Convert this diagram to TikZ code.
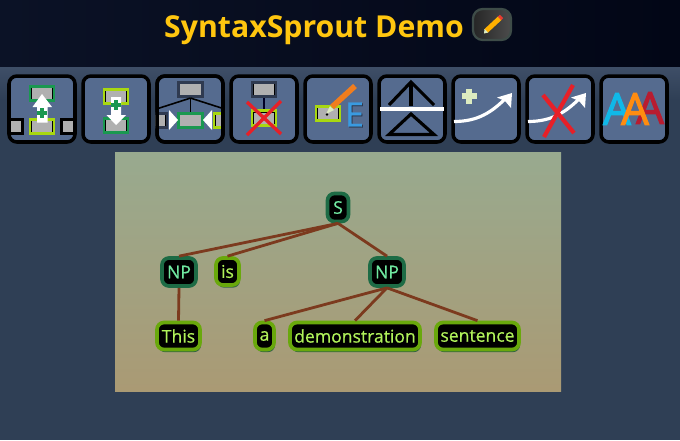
\documentclass[tikz,border=0pt]{standalone}
\usepackage{fontspec}
\setmainfont{Open Sans}
\newfontfamily\nodefont[FakeBold=0.6]{Open Sans}
\newfontfamily\lettersfont[FakeBold=2.5]{Open Sans}
\usepackage{xcolor}
\usetikzlibrary{arrows.meta, positioning, shadows}
\definecolor{pagebg}{HTML}{2F3F55}
\definecolor{stripbg}{HTML}{3E4E67}
\definecolor{btnbg}{HTML}{556B8F}
\definecolor{headleft}{HTML}{0B1226}
\definecolor{headright}{HTML}{020616}
\definecolor{titlegold}{HTML}{FFC60F}
\definecolor{innergreen}{HTML}{1D6B45}
\definecolor{innertext}{HTML}{70E8A0}
\definecolor{leafgreen}{HTML}{69A80C}
\definecolor{leaftext}{HTML}{B0F25A}
\definecolor{edgebrown}{HTML}{7C3A1E}
\definecolor{boxgrey}{HTML}{B0B0B0}
\definecolor{boxdark}{HTML}{2F3A50}
\definecolor{boxgreen}{HTML}{1A9850}
\definecolor{boxlime}{HTML}{A8D810}
\definecolor{crossred}{HTML}{E62028}
\definecolor{palegreen}{HTML}{DCEBC0}
\tikzset{
	btn/.style={draw=black, fill=btnbg, line width=2pt, rounded corners=4.5pt, minimum width=1.32cm, minimum height=1.32cm},
	inner/.style={draw=innergreen, fill=black, line width=2.1pt, rounded corners=4pt, text=innertext, font=\nodefont\fontsize{10}{10}\selectfont, inner sep=0pt, minimum height=0.56cm},
	leaf/.style={draw=leafgreen, fill=black, line width=2.1pt, rounded corners=4pt, text=leaftext, font=\nodefont\fontsize{10}{10}\selectfont, inner sep=0pt, minimum height=0.54cm, general shadow={fill=innergreen!80!black, opacity=0.8, shadow xshift=0.6pt, shadow yshift=-1.5pt}},
	branch/.style={draw=edgebrown, line width=1.6pt},
	minibox/.style={fill=boxgrey, line width=1.5pt, inner sep=0pt, minimum width=0.48cm, minimum height=0.29cm, path picture={\draw[black, line width=2.2pt] (path picture bounding box.south west) |- (path picture bounding box.north east) -- (path picture bounding box.south east);}},
	redcross/.style={draw=crossred, line width=1.9pt},
	treeline/.style={draw=black, line width=1.8pt},
	bowline/.style={draw=white, line width=1.8pt},
}
\begin{document}
\begin{tikzpicture}[x=0.02cm, y=-0.02cm]
		\useasboundingbox (0, 0) rectangle (680, 440);
		% Backdrop:
		\fill[pagebg] (0, 0) rectangle (680, 440);
		\shade[left color=headleft, right color=headright] (0, 0) rectangle (680, 67);
		\fill[top color=stripbg, bottom color=pagebg] (0, 67) rectangle (680, 100);
		\fill[top color={rgb,255:red,152;green,170;blue,143}, bottom color={rgb,255:red,170;green,154;blue,116}] (115, 152) rectangle (561, 391);
		% Title:
		\node[text=titlegold, font=\fontsize{17.2}{17.2}\bfseries\selectfont, inner sep=0pt](title) at (314, 30){SyntaxSprout Demo};
		\node[draw={rgb,255:red,62;green,76;blue,72}, left color=black!85!white, right color=black!70!white, line width=1.3pt, rounded corners=5.5pt, minimum width=0.76cm, minimum height=0.62cm](edit) at (492, 24.5){};
		\draw[draw={rgb,255:red,255;green,176;blue,0}, line width=2.8pt] (486, 31) -- (500, 18);
		\draw[draw={rgb,255:red,230;green,60;blue,50}, line width=2.8pt] (499.5, 18.5) -- (501.5, 16.5);
		\fill[palegreen] (484, 33.5) -- (484.5, 29) -- (488, 32.5) -- cycle;
		% Buttons:
		\node[btn](B1) at (42, 109){};
		\node[btn](B2) at (116, 109){};
		\node[btn](B3) at (190, 109){};
		\node[btn](B4) at (264, 109){};
		\node[btn](B5) at (338, 109){};
		\node[btn](B6) at (412, 109){};
		\node[btn](B7) at (486, 109){};
		\node[btn](B8) at (560, 109){};
		\node[btn](B9) at (634, 109){};
		% Button 1:
		\node[minibox, draw=boxgreen](a1) at (42, 93.5){};
		\node[minibox, draw=boxlime](a2) at (42, 126.5){};
		\node[minibox, draw=black, minimum width=0.28cm](a3) at (16, 126.5){};
		\node[minibox, draw=black, minimum width=0.28cm](a4) at (68, 126.5){};
		\fill[white] (37, 122.5) -- (37, 107) -- (32.5, 107) -- (42, 94) -- (52, 107) -- (47.5, 107) -- (47.5, 122.5) -- cycle;
		\draw[boxgreen, line width=2pt] (37, 113) -- (47, 113) (42, 108) -- (42, 118);
		% Button 2:
		\node[minibox, draw=boxlime](c1) at (116, 96.5){};
		\node[minibox, draw=boxgreen](c2) at (116, 125.5){};
		\fill[white] (111, 97) -- (121, 97) -- (121, 115) -- (126, 115) -- (116, 125) -- (106.5, 115) -- (111, 115) -- cycle;
		\draw[boxgreen, line width=2pt] (111, 105) -- (121, 105) (116, 100) -- (116, 110);
		% Button 3:
		\begin{scope}
			\clip (B3.north west) rectangle (B3.south east);
			\node[minibox, draw=boxdark](e1) at (190.5, 89.5){};
			\node[minibox, draw=boxgreen](e2) at (190.5, 120.5){};
			\node[minibox, draw=boxdark, minimum width=0.36cm](e3) at (158, 120.5){};
			\node[minibox, draw=boxlime, minimum width=0.36cm](e4) at (223, 120.5){};
		\end{scope}
		\coordinate (e5) at (158, 108.5);
		\coordinate (e6) at (223, 108.5);
		\draw[draw=black, line width=0.9pt] (e1.south) -- (e2.north);
		\draw[draw=black, line width=0.9pt] (e1.south) -- (e5);
		\draw[draw=black, line width=0.9pt] (e1.south) -- (e6);
		\fill[white] (169, 110) -- (178, 120) -- (169, 130) -- cycle;
		\fill[white] (212, 110) -- (203, 120) -- (212, 130) -- cycle;
		\node[btn, fill=none](B3frame) at (B3){};
		% Button 4:
		\node[minibox, draw=boxdark](g1) at (264, 89.5){};
		\node[minibox, draw=boxlime](g2) at (264, 118){};
		\draw[draw=black!85!blue, line width=1.4pt] (g1.south) -- (g2.north);
		\draw[redcross] (247, 102) -- (281, 134);
		\draw[redcross] (281, 101) -- (247, 135);
		% Button 5:
		\node[minibox, draw=boxlime](h1) at (328, 113.5){};
		\draw[draw={rgb,255:red,240;green,125;blue,30}, line width=3.2pt] (332, 107) -- (355, 86);
		\fill[palegreen] (326, 114) -- (330, 106) -- (334, 110) -- cycle;
		\fill[black] (327, 114.5) circle (1.3);
		\node[text=boxdark, font=\nodefont\fontsize{19}{19}\selectfont, inner sep=0pt] at (355.5, 115.5){E};
		\node[text={rgb,255:red,58;green,154;blue,224}, font=\nodefont\fontsize{19}{19}\selectfont, inner sep=0pt] at (354.5, 114.5){E};
		% Button 6:
		\coordinate (k1) at (411, 82);
		\coordinate (k2) at (389, 105);
		\coordinate (k3) at (434, 105);
		\coordinate (k4) at (411, 106);
		\draw[treeline] (k2) -- (k1) -- (k3);
		\draw[treeline] (k1) -- (k4);
		\draw[draw=white, line width=1.9pt] (380, 109) -- (444, 109);
		\draw[treeline] (411, 114) -- (389, 134.5) -- (434, 134.5) -- cycle;
		% Button 7:
		\draw[palegreen, line width=3pt] (461.5, 96) -- (476.5, 96) (469, 88.5) -- (469, 103.5);
		\draw[bowline] (454, 121.5) .. controls (478, 121.5) and (492, 112) .. (506, 98);
		\fill[white] (512, 93) -- (511, 108) -- (505, 101) -- (497, 97.5) -- cycle;
		% Button 8:
		\draw[bowline] (528, 121.5) .. controls (552, 121.5) and (566, 112) .. (580, 98);
		\fill[white] (586, 93) -- (585, 108) -- (579, 101) -- (571, 97.5) -- cycle;
		\draw[redcross, line width=2.4pt] (543, 95) -- (574, 133);
		\draw[redcross, line width=2.4pt] (573, 85) -- (544, 137);
		% Button 9:
		\node[text={rgb,255:red,184;green,28;blue,48}, font=\lettersfont\fontsize{25}{25}\selectfont, inner sep=0pt] at (650, 108){A};
		\node[text={rgb,255:red,16;green,184;blue,232}, font=\lettersfont\fontsize{25}{25}\selectfont, inner sep=0pt] at (617, 109){A};
		\node[text={rgb,255:red,255;green,140;blue,16}, font=\lettersfont\fontsize{25}{25}\selectfont, inner sep=0pt] at (635, 109){A};
		% Tree:
		\node[inner, minimum width=0.42cm](S) at (338, 207.5){S};
		\node[inner, minimum width=0.68cm](NP1) at (179, 272){NP};
		\node[leaf, minimum width=0.46cm](is) at (227.5, 271.5){is};
		\node[inner, minimum width=0.68cm](NP2) at (387, 272){NP};
		\node[leaf, minimum width=0.86cm](This) at (178.5, 336){This};
		\node[leaf, minimum width=0.38cm](a) at (264.5, 336){a};
		\node[leaf, minimum width=2.6cm](demonstration) at (355, 336){demonstration};
		\node[leaf, minimum width=1.66cm](sentence) at (477.5, 336){sentence};
		\draw[branch] (S.south) -- (NP1.north);
		\draw[branch] (S.south) -- (is.north);
		\draw[branch] (S.south) -- (NP2.north);
		\draw[branch] (NP1.south) -- (This.north);
		\draw[branch] (NP2.south) -- (a.north);
		\draw[branch] (NP2.south) -- (demonstration.north);
		\draw[branch] (NP2.south) -- (sentence.north);
\end{tikzpicture}
\end{document}
